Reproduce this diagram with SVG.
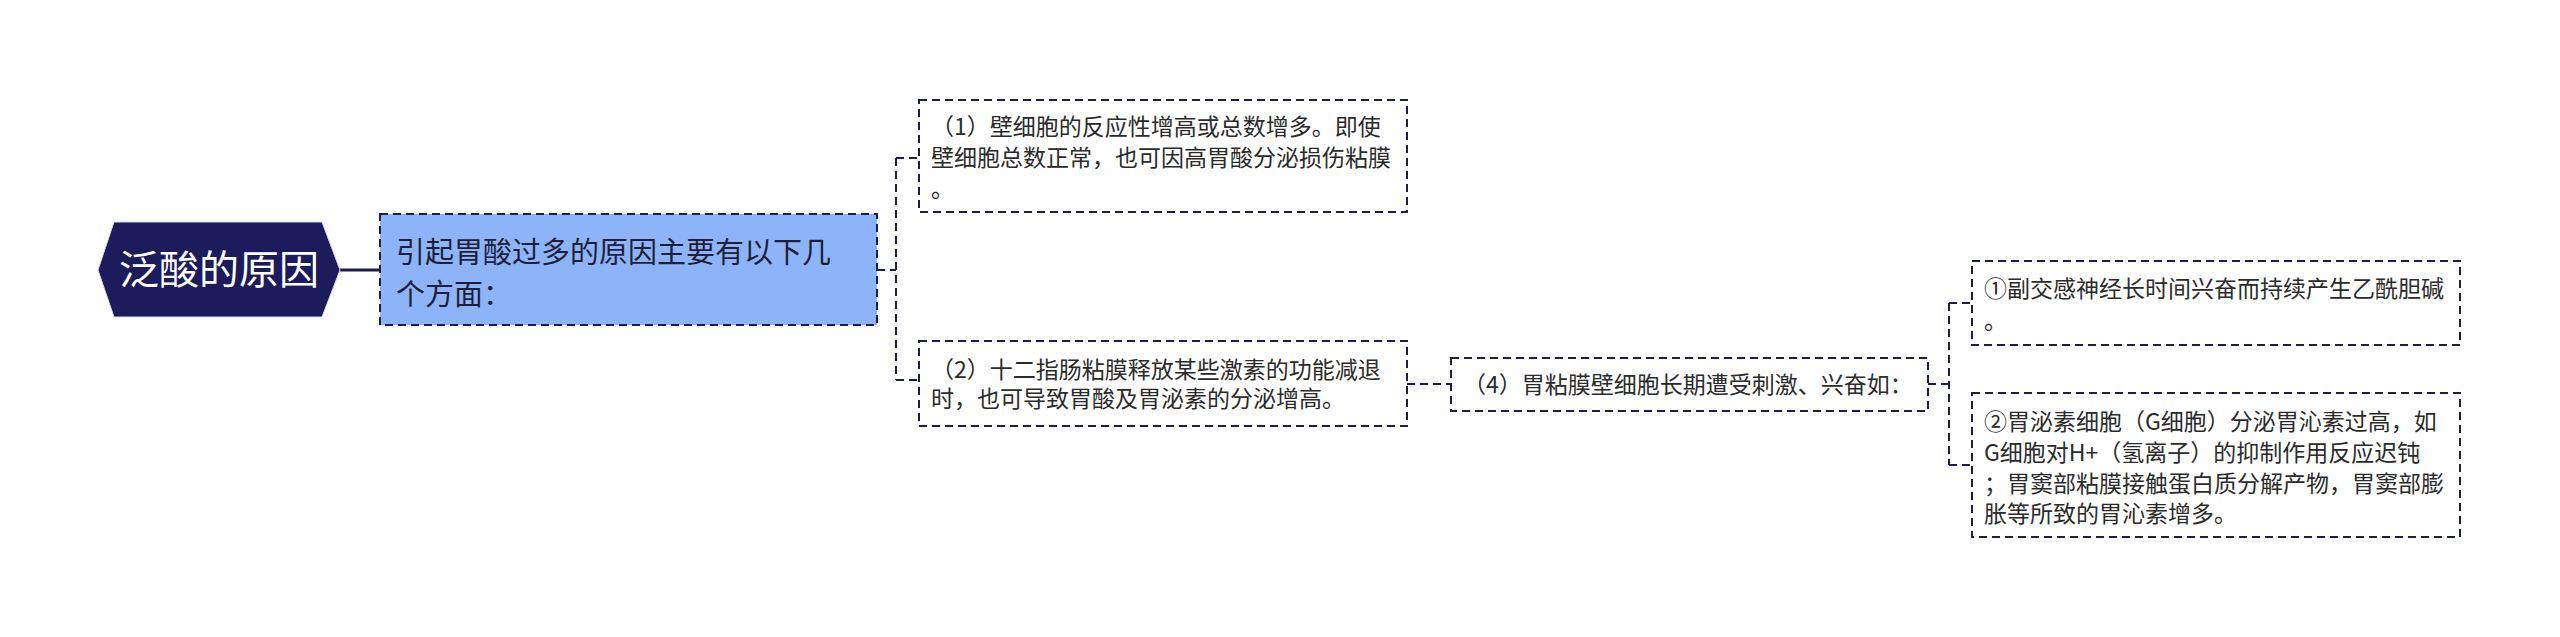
<svg xmlns="http://www.w3.org/2000/svg" width="2560" height="637" viewBox="0 0 2560 637">
<style>
.box{fill:#ffffff;stroke:#1c1c4e;stroke-width:2;stroke-dasharray:8 5}
.blue{fill:#8db4f9;stroke:#1c1c4e;stroke-width:2;stroke-dasharray:8 5}
.t{font-family:"Noto Sans CJK SC","Microsoft YaHei",sans-serif;font-size:23px;fill:#2b2b2b}
.tb{font-family:"Noto Sans CJK SC","Microsoft YaHei",sans-serif;font-size:29px;fill:#1f1f3a}
.tr{font-family:"Noto Sans CJK SC","Microsoft YaHei",sans-serif;font-size:40px;fill:#ffffff}
.c{fill:none;stroke:#1c1c4e;stroke-width:2;stroke-dasharray:8 5}
</style>
<rect width="2560" height="637" fill="#ffffff"/>
<g id="connectors">
<line x1="340" y1="270" x2="380" y2="270" stroke="#1c1c4e" stroke-width="3"/>
<path class="c" d="M877 270 H896 M896 158 V380 M896 158 H919 M896 380 H919"/>
<path class="c" d="M1407 384 H1451"/>
<path class="c" d="M1928 384 H1949 M1949 303 V465 M1949 303 H1972 M1949 465 H1972"/>
</g>
<g id="root">
<polygon points="98,270 114,222 322,222 340,270 322,317 114,317" fill="#1c1c5c" stroke="#d8d8e8" stroke-width="1"/>
<text class="tr" x="219" y="284" text-anchor="middle">泛酸的原因</text>
</g>
<g id="n-main">
<rect class="blue" x="380" y="214" width="497" height="111"/>
<text class="tb" x="396" y="263">引起胃酸过多的原因主要有以下几</text>
<text class="tb" x="396" y="305">个方面：</text>
</g>
<g id="n1">
<rect class="box" x="919" y="100" width="488" height="112"/>
<text class="t" x="931" y="135">（1）壁细胞的反应性增高或总数增多。即使</text>
<text class="t" x="931" y="166">壁细胞总数正常，也可因高胃酸分泌损伤粘膜</text>
<text class="t" x="931" y="197">。</text>
</g>
<g id="n2">
<rect class="box" x="919" y="341" width="488" height="85"/>
<text class="t" x="931" y="378">（2）十二指肠粘膜释放某些激素的功能减退</text>
<text class="t" x="931" y="407">时，也可导致胃酸及胃泌素的分泌增高。</text>
</g>
<g id="n4">
<rect class="box" x="1451" y="358" width="477" height="53"/>
<text class="t" x="1463" y="393">（4）胃粘膜壁细胞长期遭受刺激、兴奋如：</text>
</g>
<g id="na">
<rect class="box" x="1972" y="261" width="488" height="84"/>
<text class="t" x="1984" y="297">①副交感神经长时间兴奋而持续产生乙酰胆碱</text>
<text class="t" x="1984" y="329">。</text>
</g>
<g id="nb">
<rect class="box" x="1972" y="393" width="488" height="144"/>
<text class="t" x="1984" y="430">②胃泌素细胞（G细胞）分泌胃沁素过高，如</text>
<text class="t" x="1984" y="461">G细胞对H+（氢离子）的抑制作用反应迟钝</text>
<text class="t" x="1984" y="492">；胃窦部粘膜接触蛋白质分解产物，胃窦部膨</text>
<text class="t" x="1984" y="522">胀等所致的胃沁素增多。</text>
</g>
</svg>
